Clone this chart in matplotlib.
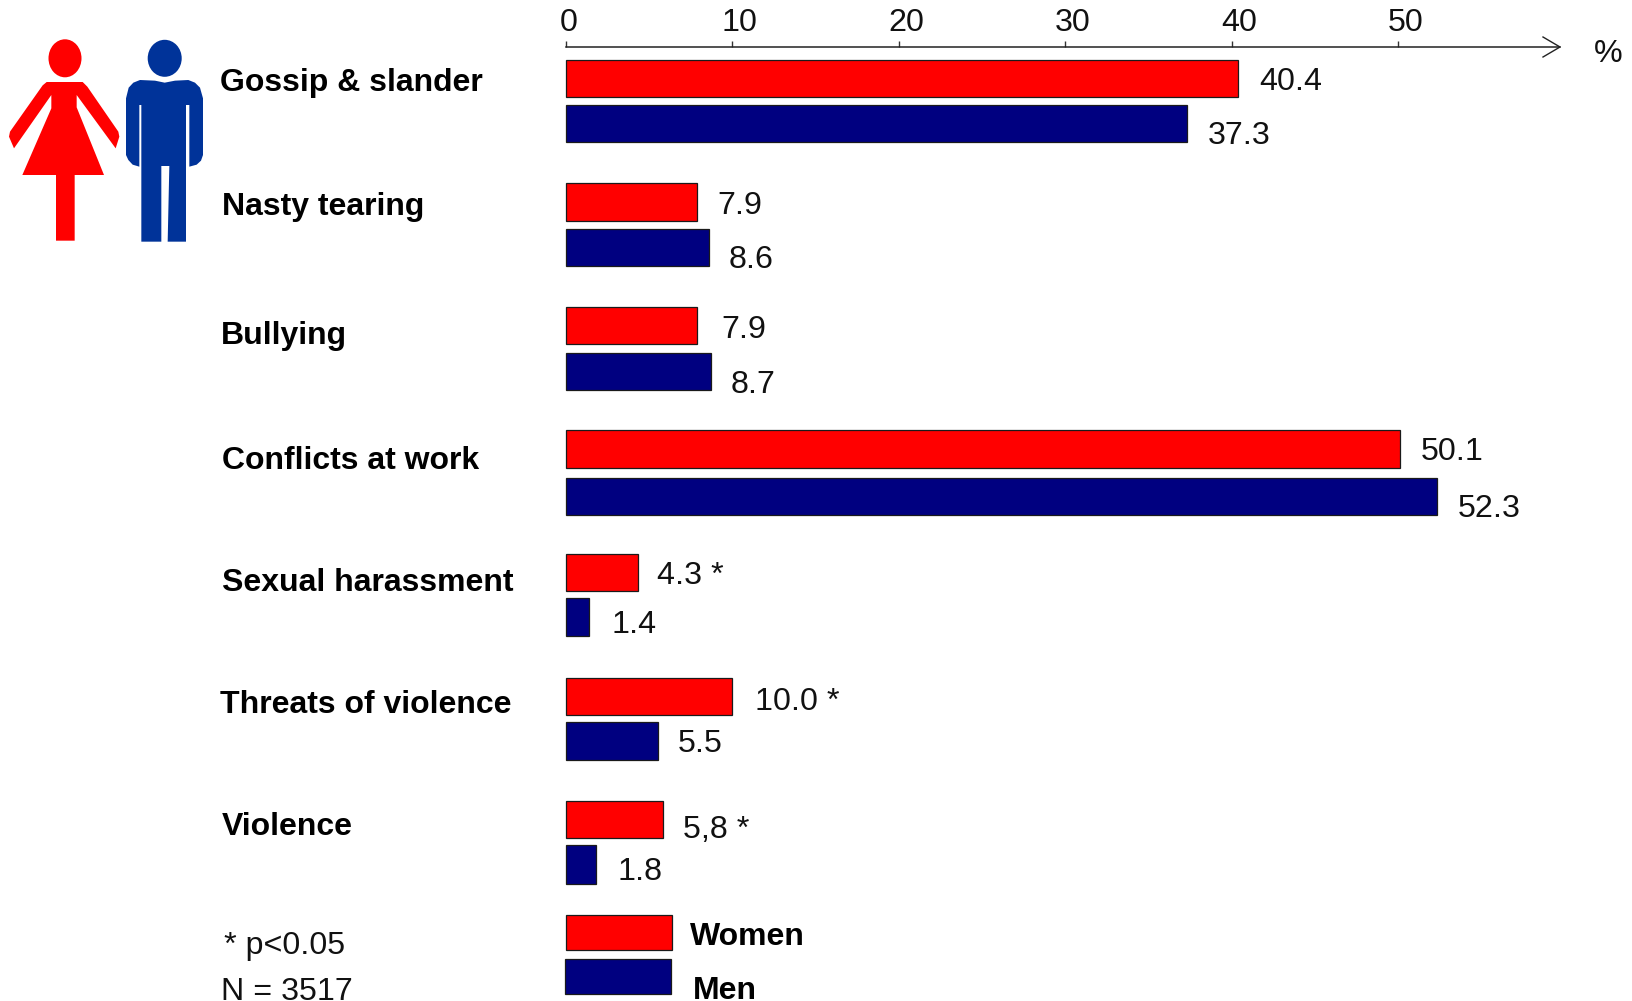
import matplotlib
matplotlib.use("Agg")
import matplotlib.pyplot as plt
from matplotlib.patches import Polygon, Ellipse
from matplotlib.transforms import ScaledTranslation

plt.rcParams['font.family'] = ['Liberation Sans', 'DejaVu Sans']

# ---- data
categories = ["Gossip & slander", "Nasty tearing", "Bullying", "Conflicts at work",
              "Sexual harassment", "Threats of violence", "Violence"]
women = [40.4, 7.9, 7.9, 50.1, 4.3, 10.0, 5.8]
men = [37.3, 8.6, 8.7, 52.3, 1.4, 5.5, 1.8]
women_labels = ["40.4", "7.9", "7.9", "50.1", "4.3 *", "10.0 *", "5,8 *"]
men_labels = ["37.3", "8.6", "8.7", "52.3", "1.4", "5.5", "1.8"]
ticks = [0, 10, 20, 30, 40, 50]

# ---- layout (pixels of the 1632x1001 canvas)
W, H = 1632, 1001
X0, PX_PER_UNIT, X_END, AXIS_Y = 566, 16.645, 1560, 47
women_span = [(59.5, 96.5), (183, 220.5), (307, 344), (430, 468), (554, 591), (677.5, 715), (801, 838)]
men_span = [(105, 142), (229, 266), (353, 390), (478, 515), (598, 636), (722, 760), (845, 883.5)]
women_text_xy = [(1259, 90), (717, 214), (721, 338), (1421, 460), (657, 584), (755, 710), (683, 838)]
men_text_xy = [(1208, 144), (729, 268), (731, 393), (1458, 517), (611, 633), (678, 752), (618, 880)]
cat_xy = [(220, 81), (222, 205), (221, 334), (222, 459), (222, 581), (220, 703), (222, 825)]
RED, NAVY = "#ff0000", "#000080"
FS = 23.2
FSB = 23.0

fig = plt.figure(figsize=(W / 100, H / 100), dpi=100)
fig.patch.set_facecolor("white")

# overlay in pixel coordinates for texts and icons
px = fig.add_axes([0, 0, 1, 1])
px.set_xlim(0, W)
px.set_ylim(H, 0)
px.axis("off")

# chart axes: top spine is the value axis
ax = fig.add_axes([X0 / W, 0, (X_END - X0) / W, (H - AXIS_Y) / H])
ax.patch.set_visible(False)
ax.set_xlim(0, (X_END - X0) / PX_PER_UNIT)
ax.set_ylim(H, AXIS_Y)
for s in ("left", "right", "bottom"):
    ax.spines[s].set_visible(False)
ax.spines["top"].set_linewidth(1.1)
ax.spines["top"].set_color("#222222")
ax.xaxis.tick_top()
ax.set_yticks([])
ax.set_xticks(ticks)
ax.set_xticklabels([str(t) for t in ticks], fontsize=FS, color="#111111")
ax.tick_params(axis="x", direction="out", length=4.5, width=1.0, color="#333333", pad=2)
for t, lab in zip(ticks, ax.get_xticklabels()):
    dx = 3 if t == 0 else 7
    lab.set_transform(lab.get_transform() + ScaledTranslation(dx / 100, 0, fig.dpi_scale_trans))

for vals, spans, col in ((women, women_span, RED), (men, men_span, NAVY)):
    for v, (a, b) in zip(vals, spans):
        ax.barh((a + b) / 2, v, height=b - a, color=col, edgecolor="#1a1a1a", linewidth=0.9, clip_on=False)

# axis arrow head
px.plot([X_END - 17, X_END, X_END - 17], [AXIS_Y - 10, AXIS_Y, AXIS_Y + 10], color="#222222", lw=1.0)
px.text(1594, 62, "%", fontsize=FS, ha="left", va="baseline", color="#111111")

# texts
for name, (x, y) in zip(categories, cat_xy):
    px.text(x, y + 10, name, fontsize=FSB, fontweight="bold", ha="left", va="baseline")
for labs, xy in ((women_labels, women_text_xy), (men_labels, men_text_xy)):
    for s, (x, y) in zip(labs, xy):
        px.text(x, y, s, fontsize=FS, ha="left", va="baseline", color="#111111")

# legend and notes
px.add_patch(plt.Rectangle((566, 915), 106, 35, fc=RED, ec="#1a1a1a", lw=0.9))
px.add_patch(plt.Rectangle((565, 959), 106, 35, fc=NAVY, ec="#1a1a1a", lw=0.9))
px.text(690, 945, "Women", fontsize=FSB, fontweight="bold", ha="left", va="baseline")
px.text(693, 999, "Men", fontsize=FSB, fontweight="bold", ha="left", va="baseline")
px.text(224, 954, "* p<0.05", fontsize=FS, ha="left", va="baseline", color="#111111")
px.text(221, 1000, "N = 3517", fontsize=FS, ha="left", va="baseline", color="#111111")

# icons
def pts(seq):
    return [(x / 3, 20 + y / 3) for x, y in seq]

woman = [(140, 186), (248, 186), (262, 200), (355, 335), (358, 350), (347, 385), (230, 225), (230, 262),
         (312, 465), (224, 465), (224, 662), (168, 662), (168, 465), (67, 465), (154, 265), (154, 225),
         (42, 385), (27, 350), (30, 335), (128, 196)]
man = [(420, 180), (465, 182), (494, 188), (525, 182), (565, 180), (585, 188), (600, 203), (609, 235), (609, 405),
       (603, 422), (590, 434), (568, 440), (568, 255), (558, 255), (558, 665), (503, 665), (508, 438), (484, 438),
       (484, 665), (424, 665), (424, 255), (418, 255), (418, 440), (398, 434), (385, 420), (378, 405), (378, 235),
       (386, 203), (400, 188)]
px.add_patch(Polygon(pts(woman), closed=True, fc="#ff0000", ec="none"))
px.add_patch(Ellipse((65, 58.3), 33, 38, fc="#ff0000", ec="none"))
px.add_patch(Polygon(pts(man), closed=True, fc="#003399", ec="none"))
px.add_patch(Ellipse((164.7, 58.3), 34, 37, fc="#003399", ec="none"))

fig.savefig("out.png", dpi=100, facecolor="white")
